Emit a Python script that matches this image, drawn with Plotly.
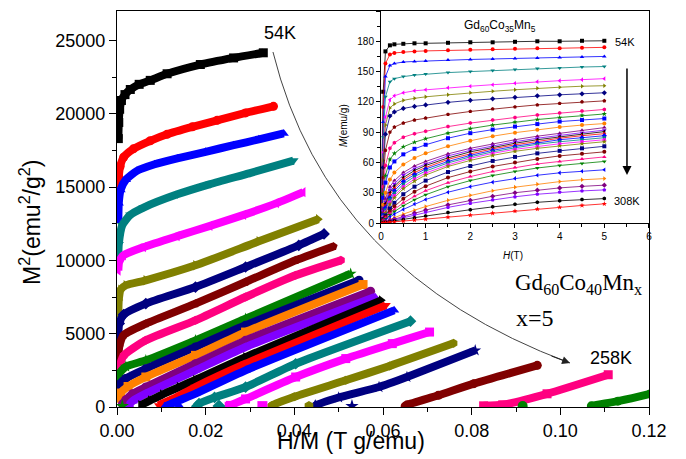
import plotly.graph_objects as go

# ---------------- main Arrott plot data (H/M in T g/emu, M^2 in emu^2/g^2) ----------------
main_hm = [
    [0.0003, 0.0004, 0.0006, 0.001, 0.0018, 0.003, 0.005, 0.0075, 0.0113, 0.0188, 0.0263, 0.033],
    [0.0003, 0.0004, 0.0007, 0.0015, 0.0037, 0.0075, 0.0113, 0.017, 0.0226, 0.029, 0.0353],
    [0.0003, 0.0004, 0.0008, 0.002, 0.0045, 0.0085, 0.0136, 0.02, 0.0263, 0.032, 0.0376],
    [0.0003, 0.0004, 0.0012, 0.003, 0.006, 0.0136, 0.021, 0.030, 0.0398],
    [0.0003, 0.0005, 0.0015, 0.006, 0.0136, 0.021, 0.0286, 0.036, 0.042],
    [0.0003, 0.0004, 0.0008, 0.002, 0.0065, 0.0177, 0.032, 0.0454],
    [0.0003, 0.0005, 0.0015, 0.0065, 0.0177, 0.029, 0.041, 0.0467],
    [0.0003, 0.0005, 0.0015, 0.0065, 0.0177, 0.029, 0.0403, 0.0488],
    [0.0003, 0.0005, 0.0015, 0.0065, 0.0177, 0.029, 0.0403, 0.0505],
    [0.0003, 0.0006, 0.002, 0.0065, 0.0177, 0.029, 0.0527],
    [0.0003, 0.0006, 0.002, 0.0065, 0.0177, 0.029, 0.0546],
    [0.0004, 0.0008, 0.0025, 0.0065, 0.0177, 0.029, 0.0555],
    [0.0012, 0.002, 0.0035, 0.0065, 0.0177, 0.029, 0.0572],
    [0.0027, 0.0035, 0.0065, 0.0177, 0.029, 0.0582],
    [0.0053, 0.0075, 0.0102, 0.014, 0.0177, 0.029, 0.0596],
    [0.0095, 0.0102, 0.013, 0.0177, 0.029, 0.0606],
    [0.0108, 0.0114, 0.014, 0.0177, 0.029, 0.0625],
    [0.018, 0.0185, 0.022, 0.029, 0.0403, 0.0662],
    [0.0253, 0.0256, 0.029, 0.0403, 0.0516, 0.0621, 0.0705],
    [0.0348, 0.035, 0.040, 0.0516, 0.0615, 0.0759],
    [0.0446, 0.0448, 0.050, 0.0591, 0.0654, 0.0808],
    [0.065, 0.0655, 0.0725, 0.0805, 0.0948],
    [0.0827, 0.087, 0.097, 0.1108],
    [0.107, 0.113, 0.1203, 0.1235],
]
main_m2 = [
    [18300, 19400, 20300, 20900, 21300, 21650, 22000, 22270, 22720, 23350, 23800, 24150],
    [14900, 15700, 16400, 17030, 17600, 18150, 18600, 19100, 19550, 20050, 20500],
    [12700, 13900, 14800, 15500, 16100, 16550, 16950, 17400, 17850, 18250, 18650],
    [10000, 11100, 12400, 13100, 13600, 14500, 15200, 15950, 16800],
    [9300, 9900, 10350, 10900, 11650, 12350, 13100, 13900, 14650],
    [6400, 7300, 8000, 8300, 8640, 9660, 11300, 12800],
    [4800, 5700, 6300, 7050, 8180, 9545, 11020, 11800],
    [3300, 4100, 4900, 5680, 7045, 8520, 10000, 10950],
    [1500, 2600, 3500, 4545, 5910, 7500, 8980, 10000],
    [1800, 2300, 2750, 3180, 4545, 6020, 9090],
    [1150, 1550, 1950, 2610, 4090, 5570, 8640],
    [600, 950, 1400, 2045, 3520, 5110, 8350],
    [200, 500, 900, 1360, 2950, 4545, 7900],
    [150, 400, 910, 2500, 4090, 7500],
    [120, 450, 850, 1360, 1850, 3400, 7270],
    [100, 230, 600, 1360, 2950, 6930],
    [50, 110, 450, 910, 2500, 6590],
    [50, 230, 650, 1360, 2950, 5850],
    [50, 110, 550, 2045, 3300, 4320, 5110],
    [50, 110, 700, 1820, 2800, 4340],
    [50, 110, 650, 1360, 2045, 3860],
    [50, 150, 800, 1590, 2840],
    [80, 150, 900, 2200],
    [80, 400, 900, 1150],
]
# isolated first points lying on the baseline
iso_hm = [0.0012, 0.014, 0.023, 0.0328, 0.0433, 0.053, 0.0915]
iso_m2 = [60, 60, 60, 60, 60, 60, 60]
iso_of_series = [9, 16, 17, 18, 19, 20, 23]

# ---------------- inset M(H) data ----------------
inset_H = [0, 0.05, 0.1, 0.2, 0.3, 0.5, 0.75, 1, 1.5, 2, 2.5, 3, 3.5, 4, 4.5, 5]
inset_M = [
    [0, 130, 170, 176, 177, 177.5, 178, 178, 178.5, 179, 179, 179.5, 180, 180, 180.5, 180.5],
    [0, 115, 158, 167, 168.5, 169.5, 170, 170.5, 171, 171.5, 172, 172.5, 173, 173, 173.5, 174],
    [0, 100, 145, 156, 158, 159.5, 160, 160.5, 161.5, 162, 162.5, 163, 163.5, 164, 164.5, 165],
    [0, 85, 125, 140, 143, 145, 146.5, 147.5, 149, 150, 151, 152, 153, 153.5, 154.5, 155],
    [0, 70, 105, 122, 126, 129, 131, 132, 134, 135.5, 137, 138.5, 140, 141, 142, 143],
    [0, 62, 97, 114, 118, 121.5, 123.5, 125, 127, 129, 130.5, 132, 133.5, 134.5, 135.5, 136],
    [0, 55, 88, 106, 110, 113.5, 115.5, 117, 119.5, 121.5, 123, 124.5, 126, 127, 128, 129],
    [0, 45, 72, 90, 95, 99, 102, 104, 107.5, 110.5, 113, 115, 117, 118.5, 120, 121],
    [0, 36, 57, 74, 79.5, 85, 88.5, 91, 95.5, 99, 102, 104.5, 107, 109, 111, 112.5],
    [0, 29, 47, 63, 69, 75.5, 80, 83.5, 89, 93.5, 97, 100, 102.5, 104.5, 106.5, 108],
    [0, 25, 40, 55, 61, 68, 73.5, 77.5, 84, 89, 92.5, 95.5, 98, 100.5, 102, 103.5],
    [0, 18, 30, 43, 50, 58, 64.5, 69, 76, 81.5, 86, 89.5, 92.5, 95, 97, 98.5],
    [0, 14, 24, 36, 42, 50, 56.5, 61, 68.5, 74, 78.5, 82.5, 86, 89, 92, 94.5],
    [0, 12, 21, 33, 39, 47.5, 54, 58.5, 66.5, 72, 76.5, 80.5, 84, 87, 89.5, 92],
    [0, 10, 19, 30, 36.5, 45, 52, 57, 64.5, 70.5, 75, 79, 82.5, 85.5, 88, 90.5],
    [0, 9, 17, 28, 34.5, 43, 50, 55, 63, 68.5, 73.5, 77.5, 81, 84, 86.5, 88.5],
    [0, 8, 15, 25, 32, 41, 48, 53.5, 61, 67, 72, 76, 79.5, 82.5, 84.5, 86.5],
    [0, 7, 13, 23, 29.5, 38.5, 46, 51.5, 59.5, 65.5, 70.5, 74.5, 78, 80.5, 82.5, 84.5],
    [0, 6, 11, 20.5, 27, 36, 43.5, 49.5, 57.5, 64, 69, 73, 76, 78.5, 80.5, 82.5],
    [0, 5, 10, 18.5, 25, 34, 41.5, 47.5, 56, 62, 67, 71, 74, 76.5, 78.5, 80.5],
    [0, 4, 7.5, 14.5, 20, 28.5, 36, 42, 50.5, 56.5, 61.5, 65.5, 69, 71.5, 74, 76],
    [0, 3, 6, 11.5, 16.5, 24, 31, 36.5, 45, 51, 56, 60, 63.5, 66.5, 68.5, 70.5],
    [0, 2.5, 5, 9.5, 13.5, 20, 26.5, 32, 40, 46, 51, 55, 58.5, 61, 63.5, 65.5],
    [0, 2, 4, 8, 11.5, 17, 23, 28, 36, 42, 47, 51, 54.5, 57, 59, 61],
    [0, 1.5, 3, 6, 8.8, 13.5, 18.8, 23.3, 30.5, 36, 40.5, 44.2, 47.3, 49.7, 51.3, 52.7],
    [0, 0.9, 1.8, 3.6, 5.4, 8.8, 12.7, 16.3, 22.5, 27.5, 32, 35.5, 38.5, 41, 42.8, 44],
    [0, 0.6, 1.3, 2.7, 4, 6.7, 9.8, 12.8, 18, 22.5, 26.5, 30, 32.5, 34.8, 36.3, 37.5],
    [0, 0.5, 1, 2.2, 3.3, 5.5, 8.2, 10.8, 15.5, 19.5, 23, 26, 28.5, 30.5, 31.8, 32.8],
    [0, 0.3, 0.7, 1.5, 2.2, 3.6, 5.3, 7, 10.3, 13.2, 16, 18.5, 20.5, 22, 23.2, 24.2],
    [0, 0.2, 0.4, 0.8, 1.2, 1.9, 2.9, 3.8, 5.8, 7.8, 9.8, 11.8, 13.8, 15.6, 17.4, 19],
]

# ---------------- styles ----------------
cycle_colors = ['#000000', '#FF0000', '#0000FF', '#008080', '#FF00FF', '#808000', '#000080',
                '#800000', '#FF0080', '#008000', '#0000FF', '#FF8000', '#800080', '#8000FF']
main_colors = ['#000000', '#FF0000', '#0000FF', '#008080', '#FF00FF', '#808000', '#000080',
               '#800000', '#FF0080', '#008000', '#000080', '#FF8000', '#800080', '#8000FF',
               '#000000', '#FF0000', '#0000FF', '#008080', '#FF00FF', '#808000', '#000080',
               '#800000', '#FF0080', '#008000']
main_symbols = ['square', 'circle', 'triangle-up', 'triangle-down', 'triangle-left', 'triangle-right',
                'diamond', 'pentagon', 'hexagon', 'star', 'circle', 'square', 'circle', 'triangle-up',
                'triangle-right', 'triangle-down', 'triangle-up', 'diamond', 'square', 'hexagon',
                'star', 'circle', 'square', 'circle']
inset_symbols = ['square', 'circle', 'triangle-up', 'triangle-down', 'triangle-left', 'triangle-right',
                 'diamond', 'pentagon', 'hexagon', 'star']

FONT = 'Liberation Sans, Arial, sans-serif'
SERIF = 'Liberation Serif, Times New Roman, serif'

fig = go.Figure()

for i, (xs, ys) in enumerate(zip(main_hm, main_m2)):
    fig.add_trace(go.Scatter(
        x=xs, y=ys, mode='lines+markers', xaxis='x', yaxis='y',
        line=dict(color=main_colors[i], width=8, shape='spline', smoothing=0.6),
        marker=dict(color=main_colors[i], symbol=main_symbols[i], size=9,
                    line=dict(width=0)),
        hoverinfo='skip'))

for k, (xv, yv) in enumerate(zip(iso_hm, iso_m2)):
    s = iso_of_series[k]
    fig.add_trace(go.Scatter(
        x=[xv], y=[yv], mode='markers', xaxis='x', yaxis='y',
        marker=dict(color=main_colors[s], symbol=main_symbols[s], size=10, line=dict(width=0)),
        hoverinfo='skip'))

for i, ms in enumerate(inset_M):
    c = cycle_colors[i % len(cycle_colors)]
    fig.add_trace(go.Scatter(
        x=inset_H, y=ms, mode='lines+markers', xaxis='x2', yaxis='y2',
        line=dict(color=c, width=0.8),
        marker=dict(color=c, symbol=inset_symbols[i % len(inset_symbols)], size=4,
                    line=dict(width=0)),
        hoverinfo='skip'))

axis_common = dict(showgrid=False, zeroline=False, showline=True, linecolor='black',
                   mirror=True, ticks='outside', tickcolor='black', automargin=False)

# the page adds an 8px body margin, so the figure is 8px smaller and its margins shifted
fig.update_layout(
    width=678, height=451,
    margin=dict(l=109, r=37, t=3, b=52, autoexpand=False),
    paper_bgcolor='white', plot_bgcolor='white',
    showlegend=False,
    xaxis=dict(domain=[0, 1], range=[0, 0.12], tickvals=[0, 0.02, 0.04, 0.06, 0.08, 0.10, 0.12],
               tickformat='.2f', ticklen=7, tickwidth=1.2, linewidth=1.2,
               minor=dict(dtick=0.01, ticks='outside', ticklen=4, tickcolor='black', tickwidth=1),
               tickfont=dict(family=FONT, size=18, color='black'), anchor='y', **axis_common),
    yaxis=dict(domain=[0, 1], range=[0, 27000], tickvals=[0, 5000, 10000, 15000, 20000, 25000],
               tickformat='d', ticklen=7, tickwidth=1.2, linewidth=1.2,
               minor=dict(dtick=2500, ticks='outside', ticklen=4, tickcolor='black', tickwidth=1),
               tickfont=dict(family=FONT, size=18, color='black'), anchor='x', **axis_common),
    xaxis2=dict(domain=[0.4962, 1], range=[0, 6], dtick=1, ticklen=4, tickwidth=1, linewidth=1,
                minor=dict(dtick=0.5, ticks='outside', ticklen=2.5, tickcolor='black'),
                tickfont=dict(family=FONT, size=10, color='black'), anchor='y2', **axis_common),
    yaxis2=dict(domain=[0.4646, 1], range=[0, 210], dtick=30, ticklen=4, tickwidth=1, linewidth=1,
                minor=dict(dtick=15, ticks='outside', ticklen=2.5, tickcolor='black'),
                tickfont=dict(family=FONT, size=10, color='black'), anchor='x2', **axis_common),
)

def ann(text, x, y, size, family=FONT, angle=0):
    fig.add_annotation(text=text, x=x, y=y, xref='paper', yref='paper', showarrow=False,
                       xanchor='center', yanchor='middle', textangle=angle,
                       font=dict(family=family, size=size, color='black'))

ann('H/M (T g/emu)', 0.44, -0.086, 23)
ann('M<sup>2</sup>(emu<sup>2</sup>/g<sup>2</sup>)', -0.1635, 0.465, 23, angle=-90)
ann('54K', 0.3064, 0.9444, 18)
ann('258K', 0.9286, 0.1237, 18)
ann('Gd<sub>60</sub>Co<sub>40</sub>Mn<sub>x</sub>', 0.868, 0.310, 23, family=SERIF)
ann('x=5', 0.7857, 0.2247, 24, family=SERIF)
ann('Gd<sub>60</sub>Co<sub>35</sub>Mn<sub>5</sub>', 0.72, 0.962, 12)
ann('54K', 0.955, 0.9217, 11)
ann('308K', 0.9586, 0.520, 11)
ann('<i>H</i>(T)', 0.744, 0.3838, 10)
ann('<i>M</i>(emu/g)', 0.4248, 0.712, 10, angle=-90)

# inset arrow
fig.add_annotation(x=0.9586, y=0.5859, xref='paper', yref='paper', text='', showarrow=True,
                   ax=0, ay=-108, arrowhead=2, arrowsize=1.2, arrowwidth=1.5, arrowcolor='black')

# curved arrow 54K -> 258K
fig.add_shape(type='path', xref='paper', yref='paper',
              path='M 0.2932,0.8965 Q 0.3957,0.3389 0.8515,0.1111',
              line=dict(color='#444444', width=1))
fig.add_annotation(x=0.8515, y=0.1111, xref='paper', yref='paper', text='', showarrow=True,
                   ax=-20, ay=-7.5, arrowhead=2, arrowsize=1.6, arrowwidth=1, arrowcolor='#222222')

fig.write_html('out.html')
